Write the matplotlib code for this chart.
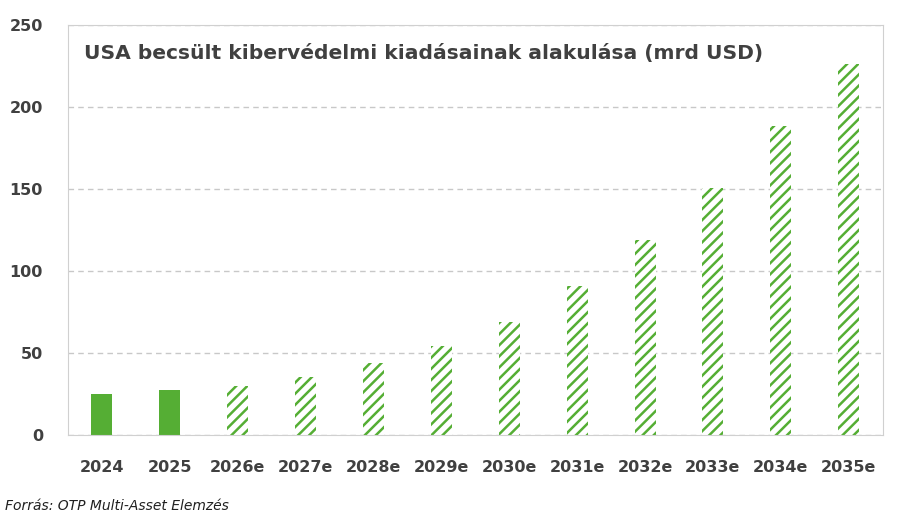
import matplotlib
matplotlib.use("Agg")
import matplotlib.pyplot as plt

categories = ["2024","2025","2026e","2027e","2028e","2029e","2030e","2031e","2032e","2033e","2034e","2035e"]
values = [25, 27.5, 30, 35.5, 44, 54, 69, 91, 119, 150.6, 188.5, 226.5]
estimated = [False, False] + [True]*10

green = "#55AE34"
plt.rcParams['hatch.linewidth'] = 1.8
fig = plt.figure(figsize=(9.09, 5.17), dpi=100)
ax = fig.add_axes([0.0748, 0.1586, 0.8962, 0.793])
x = range(len(categories))
for i, (v, e) in enumerate(zip(values, estimated)):
    if e:
        ax.bar(i, v, width=0.31, color="white", edgecolor=green, hatch="///", linewidth=0)
    else:
        ax.bar(i, v, width=0.31, color=green, linewidth=0)
ax.set_xlim(-0.5, len(categories)-0.5)
ax.set_ylim(0, 250)
ax.set_yticks([0,50,100,150,200,250])
ax.set_xticks(list(x))
ax.set_xticklabels(categories)
ax.yaxis.grid(True, color="#C8C8C8", linestyle=(0,(4,3)), linewidth=1)
ax.set_axisbelow(True)
for s in ax.spines.values():
    s.set_color("#D0D0D0")
ax.tick_params(length=0, labelsize=11.5, labelcolor="#404040")
ax.tick_params(axis="x", pad=18)
ax.tick_params(axis="y", pad=18)
for t in ax.get_xticklabels()+ax.get_yticklabels():
    t.set_fontweight("bold")
ax.text(0.02, 0.93, "USA becsült kibervédelmi kiadásainak alakulása (mrd USD)", transform=ax.transAxes,
        fontsize=14.6, fontweight="bold", color="#404040", va="center", ha="left")
fig.text(0.006, 0.013, "Forrás: OTP Multi-Asset Elemzés", fontsize=10, style="italic", color="#202020")
fig.savefig("out.png", dpi=100)
